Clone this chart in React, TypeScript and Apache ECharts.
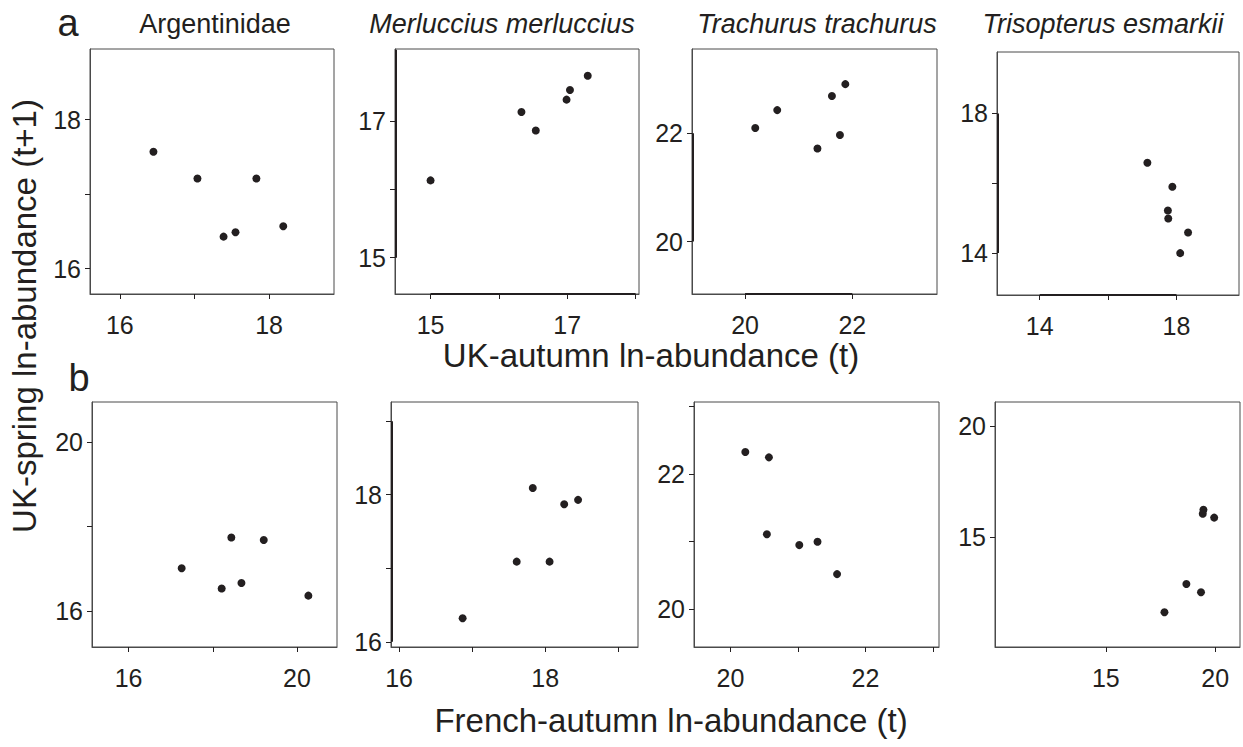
import React, { useEffect, useRef } from "react";
import * as echarts from "echarts";

const FONT = "'Liberation Sans', Arial, Helvetica, sans-serif";
const INK = "#231f20";
const FRAME = "#4a4a4a";

// ---- Row a: UK-autumn (t) vs UK-spring (t+1) ----
const argA_x = [16.45, 17.04, 17.83, 17.39, 17.55, 18.19];
const argA_y = [17.57, 17.21, 17.21, 16.43, 16.49, 16.57];
const merA_x = [15.0, 16.33, 16.54, 16.99, 17.04, 17.3];
const merA_y = [16.13, 17.13, 16.86, 17.31, 17.45, 17.66];
const traA_x = [20.19, 20.6, 21.35, 21.62, 21.77, 21.87];
const traA_y = [22.1, 22.43, 21.72, 22.69, 21.97, 22.91];
const triA_x = [17.15, 17.88, 17.75, 17.76, 18.34, 18.11];
const triA_y = [16.59, 15.9, 15.22, 14.99, 14.59, 14.0];

// ---- Row b: French-autumn (t) vs UK-spring (t+1) ----
const argB_x = [17.26, 18.44, 19.21, 18.21, 18.68, 20.27];
const argB_y = [17.01, 17.74, 17.68, 16.53, 16.66, 16.36];
const merB_x = [16.87, 17.61, 17.83, 18.06, 18.26, 18.45];
const merB_y = [16.32, 17.09, 18.09, 17.09, 17.87, 17.93];
const traB_x = [20.22, 20.57, 20.54, 21.02, 21.29, 21.58];
const traB_y = [22.33, 22.25, 21.11, 20.95, 21.0, 20.52];
const triB_x = [17.68, 18.68, 19.35, 19.46, 19.43, 19.95];
const triB_y = [11.61, 12.88, 12.51, 16.22, 16.04, 15.87];

// ---- Ticks and tick labels ----
const argA_xTicks = [16, 17, 18];
const argA_xLabels = [16, 18];
const argA_yTicks = [16, 17, 18];
const argA_yLabels = [16, 18];
const merA_xTicks = [15, 16, 17, 18];
const merA_xLabels = [15, 17];
const merA_yTicks = [15, 16, 17];
const merA_yLabels = [15, 17];
const traA_xTicks = [20, 22];
const traA_xLabels = [20, 22];
const traA_yTicks = [20, 22];
const traA_yLabels = [20, 22];
const triA_xTicks = [14, 16, 18];
const triA_xLabels = [14, 18];
const triA_yTicks = [14, 16, 18];
const triA_yLabels = [14, 18];
const argB_xTicks = [16, 18, 20];
const argB_xLabels = [16, 20];
const argB_yTicks = [16, 18, 20];
const argB_yLabels = [16, 20];
const merB_xTicks = [16, 17, 18, 19];
const merB_xLabels = [16, 18];
const merB_yTicks = [16, 17, 18, 19];
const merB_yLabels = [16, 18];
const traB_xTicks = [20, 21, 22, 23];
const traB_xLabels = [20, 22];
const traB_yTicks = [20, 21, 22, 23];
const traB_yLabels = [20, 22];
const triB_xTicks = [15, 20];
const triB_xLabels = [15, 20];
const triB_yTicks = [15, 20];
const triB_yLabels = [15, 20];

const speciesTitles = ["Argentinidae", "Merluccius merluccius", "Trachurus trachurus", "Trisopterus esmarkii"];
const speciesItalic = [false, true, true, true];
const xTitleA = "UK-autumn ln-abundance (t)";
const xTitleB = "French-autumn ln-abundance (t)";
const yTitle = "UK-spring ln-abundance (t+1)";

type Panel = {
  x: number[]; y: number[];
  xr: [number, number]; yr: [number, number];
  xt: number[]; xl: number[]; yt: number[]; yl: number[];
  box: [number, number, number, number];
  // range-frame emphasis: which axis spans are drawn in heavier ink
  fx?: [number, number]; fy?: [number, number];
};

const panels: Panel[] = [
  { x: argA_x, y: argA_y, xr: [15.6, 18.87], yr: [15.66, 18.95], xt: argA_xTicks, xl: argA_xLabels, yt: argA_yTicks, yl: argA_yLabels, box: [90, 49, 244, 245] },
  { x: merA_x, y: merA_y, xr: [14.48, 18.05], yr: [14.47, 18.05], xt: merA_xTicks, xl: merA_xLabels, yt: merA_yTicks, yl: merA_yLabels, box: [395, 49, 244, 245], fx: [15, 18], fy: [15, 18.04] },
  { x: traA_x, y: traA_y, xr: [19.01, 23.58], yr: [19.03, 23.56], xt: traA_xTicks, xl: traA_xLabels, yt: traA_yTicks, yl: traA_yLabels, box: [692, 49, 245, 245], fx: [20, 22], fy: [20, 22] },
  { x: triA_x, y: triA_y, xr: [12.75, 19.83], yr: [12.8, 19.76], xt: triA_xTicks, xl: triA_xLabels, yt: triA_yTicks, yl: triA_yLabels, box: [997, 52, 242, 243], fx: [14, 18], fy: [14, 18] },
  { x: argB_x, y: argB_y, xr: [15.13, 20.95], yr: [15.14, 20.96], xt: argB_xTicks, xl: argB_xLabels, yt: argB_yTicks, yl: argB_yLabels, box: [92, 402, 245, 245] },
  { x: merB_x, y: merB_y, xr: [15.89, 19.27], yr: [15.93, 19.26], xt: merB_xTicks, xl: merB_xLabels, yt: merB_yTicks, yl: merB_yLabels, box: [391, 402, 247, 245], fy: [16, 19] },
  { x: traB_x, y: traB_y, xr: [19.46, 23.09], yr: [19.44, 23.07], xt: traB_xTicks, xl: traB_xLabels, yt: traB_yTicks, yl: traB_yLabels, box: [694, 402, 245, 245] },
  { x: triB_x, y: triB_y, xr: [9.94, 21.13], yr: [10.05, 21.07], xt: triB_xTicks, xl: triB_xLabels, yt: triB_yTicks, yl: triB_yLabels, box: [995, 402, 245, 245] },
];

const titleCenters = [215, 502, 817, 1103];

export default function App() {
  const ref = useRef<HTMLDivElement>(null);

  useEffect(() => {
    if (!ref.current) return;
    const chart = echarts.init(ref.current, undefined, { renderer: "svg" });

    const grid = panels.map((p) => ({
      left: p.box[0], top: p.box[1], width: p.box[2], height: p.box[3],
      show: true, borderColor: FRAME, borderWidth: 1, backgroundColor: "transparent",
    }));

    const axisCommon = {
      type: "value" as const,
      splitLine: { show: false },
      axisLine: { show: true, onZero: false, lineStyle: { color: FRAME, width: 1 } },
    };

    const xAxis = panels.map((p, i) => ({
      ...axisCommon,
      gridIndex: i,
      min: p.xr[0], max: p.xr[1],
      axisTick: { show: true, customValues: p.xt, length: 5, inside: false, lineStyle: { color: INK, width: 1 } },
      axisLabel: { customValues: p.xl, margin: 18, fontSize: 25, color: INK, fontFamily: FONT, showMinLabel: true, showMaxLabel: true },
    }));

    const yAxis = panels.map((p, i) => ({
      ...axisCommon,
      gridIndex: i,
      min: p.yr[0], max: p.yr[1],
      axisTick: { show: true, customValues: p.yt, length: 5, inside: false, lineStyle: { color: INK, width: 1 } },
      axisLabel: { customValues: p.yl, margin: 9, fontSize: 25, color: INK, fontFamily: FONT, showMinLabel: true, showMaxLabel: true },
    }));

    const series = panels.map((p, i) => {
      const frames: any[] = [];
      // tiny inset so the frame value stays inside the axis extent
      const xEdge = p.xr[0] + (p.xr[1] - p.xr[0]) * 0.002;
      const yEdge = p.yr[0] + (p.yr[1] - p.yr[0]) * 0.002;
      if (p.fx) frames.push([{ coord: [p.fx[0], yEdge] }, { coord: [p.fx[1], yEdge] }]);
      if (p.fy) frames.push([{ coord: [xEdge, p.fy[0]] }, { coord: [xEdge, p.fy[1]] }]);
      return {
        type: "scatter" as const,
        xAxisIndex: i,
        yAxisIndex: i,
        data: p.x.map((v, j) => [v, p.y[j]]),
        symbol: "circle",
        symbolSize: 8,
        itemStyle: { color: INK, opacity: 1 },
        silent: true,
        markLine: frames.length
          ? {
              silent: true,
              symbol: ["none", "none"],
              label: { show: false },
              lineStyle: { color: INK, width: 2, type: "solid" },
              data: frames,
            }
          : undefined,
      };
    });

    const txt = (text: string, x: number, y: number, size: number, extra: any = {}) => ({
      type: "text",
      x, y,
      silent: true,
      ...extra,
      style: {
        text,
        fontSize: size,
        fontFamily: FONT,
        fill: INK,
        textAlign: "center",
        textVerticalAlign: "middle",
        verticalAlign: "middle",
        ...(extra.style || {}),
      },
    });

    const graphic: any[] = [
      ...speciesTitles.map((t, i) =>
        txt(t, titleCenters[i], 24, 27, { style: { fontStyle: speciesItalic[i] ? "italic" : "normal" } })
      ),
      txt("a", 68, 23, 38),
      txt("b", 79, 378, 38),
      txt(xTitleA, 651, 355, 33),
      txt(xTitleB, 671, 720, 33),
      txt(yTitle, 24, 316, 33, { rotation: Math.PI / 2 }),
    ];

    chart.setOption({
      animation: false,
      backgroundColor: "#ffffff",
      grid,
      xAxis,
      yAxis,
      series,
      graphic,
    });

    return () => chart.dispose();
  }, []);

  return (
    <div
      ref={ref}
      style={{ position: "fixed", left: 0, top: 0, width: 1243, height: 747, background: "#fff" }}
    />
  );
}
